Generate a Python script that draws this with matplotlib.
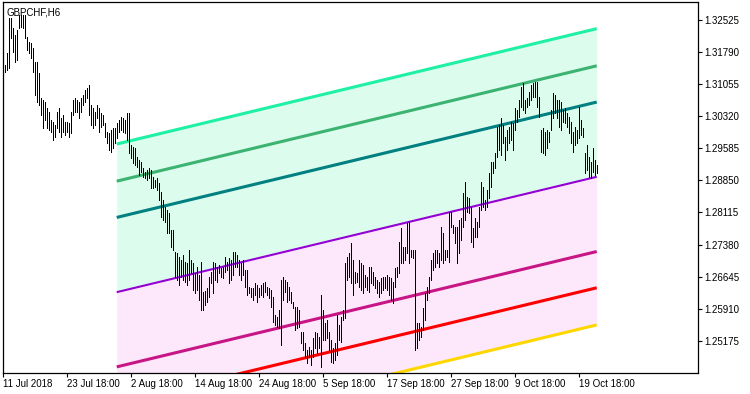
import matplotlib
matplotlib.use('Agg')
import matplotlib.pyplot as plt
import numpy as np

# GBPCHF H6 bar data, high / low per bar
highs = [
    1.3149, 1.3177, 1.3257, 1.3257, 1.3234, 1.3218, 1.3229, 1.3264, 1.3264, 1.3264,
    1.3264, 1.3213, 1.3202, 1.3200, 1.3188, 1.3156, 1.3156, 1.3131, 1.3074, 1.3069,
    1.3064, 1.3051, 1.3042, 1.3023, 1.3019, 1.3012, 1.3042, 1.3051, 1.3028, 1.3035,
    1.3019, 1.3019, 1.3016, 1.3042, 1.3069, 1.3074, 1.3069, 1.3064, 1.3074, 1.3080,
    1.3092, 1.3097, 1.3103, 1.3057, 1.3051, 1.3042, 1.3057, 1.3051,
    1.3039, 1.3035, 1.3016, 1.2996, 1.2993, 1.3000, 1.3005, 1.3005, 1.3016, 1.3023,
    1.3030, 1.3028, 1.3023, 1.3039, 1.3039, 1.2966, 1.2961, 1.2959, 1.2939, 1.2932,
    1.2927, 1.2913, 1.2904, 1.2909, 1.2913, 1.2909, 1.2893, 1.2886, 1.2890, 1.2879,
    1.2858, 1.2840, 1.2824, 1.2817, 1.2810, 1.2771, 1.2771, 1.2721, 1.2719, 1.2710,
    1.2703, 1.2714, 1.2698, 1.2696, 1.2726, 1.2703, 1.2696, 1.2673, 1.2687, 1.2668,
    1.2698, 1.2629, 1.2632, 1.2639, 1.2664, 1.2675, 1.2698, 1.2696, 1.2687, 1.2691,
    1.2684, 1.2687, 1.2710, 1.2698, 1.2707, 1.2703, 1.2721, 1.2721, 1.2714, 1.2703,
    1.2696, 1.2703, 1.2680, 1.2680, 1.2641, 1.2639, 1.2639, 1.2650, 1.2645, 1.2639,
    1.2645, 1.2650, 1.2652, 1.2641, 1.2639, 1.2634, 1.2618, 1.2577, 1.2572, 1.2588,
    1.2657, 1.2664, 1.2657, 1.2652, 1.2641, 1.2629, 1.2606, 1.2595, 1.2595, 1.2588,
    1.2538, 1.2538, 1.2513, 1.2497, 1.2503, 1.2497, 1.2524, 1.2538, 1.2535, 1.2526,
    1.2622, 1.2588, 1.2558, 1.2565, 1.2538, 1.2519, 1.2501, 1.2513, 1.2577, 1.2554,
    1.2572, 1.2588, 1.2696, 1.2710, 1.2719, 1.2742, 1.2703, 1.2675, 1.2673, 1.2703,
    1.2696, 1.2691, 1.2668, 1.2664, 1.2687, 1.2687, 1.2675, 1.2664, 1.2657, 1.2652,
    1.2661, 1.2664, 1.2664, 1.2668, 1.2664, 1.2661, 1.2652, 1.2684, 1.2687, 1.2744,
    1.2776, 1.2732, 1.2732, 1.2787, 1.2790, 1.2726, 1.2726, 1.2726, 1.2558, 1.2558,
    1.2549, 1.2593, 1.2627, 1.2641, 1.2664, 1.2703, 1.2719, 1.2726, 1.2726, 1.2719,
    1.2778, 1.2764, 1.2726, 1.2726, 1.2812, 1.2812, 1.2783, 1.2778, 1.2778, 1.2794,
    1.2799, 1.2856, 1.2881, 1.2847, 1.2845, 1.2824, 1.2776, 1.2799, 1.2790, 1.2824,
    1.2881, 1.2870, 1.2840, 1.2863, 1.2902, 1.2927, 1.2927, 1.2948, 1.3007, 1.3012,
    1.3028, 1.3012, 1.2984, 1.3000, 1.3007, 1.3019, 1.3016, 1.3051, 1.3046, 1.3069,
    1.3099, 1.3108, 1.3069, 1.3074, 1.3087, 1.3103, 1.3108, 1.3110, 1.3110, 1.3076,
    1.3000, 1.3005, 1.2996, 1.3000, 1.2996, 1.3046, 1.3085, 1.3080, 1.3069, 1.3069,
    1.3064, 1.3046, 1.3051, 1.3039, 1.3030, 1.3019, 1.2996, 1.3007, 1.3000, 1.3053,
    1.3023, 1.3005, 1.2948, 1.2966, 1.2939, 1.2927, 1.2959, 1.2932, 1.2920,
]
lows = [
    1.3133, 1.3138, 1.3142, 1.3211, 1.3179, 1.3156, 1.3161, 1.3234, 1.3236, 1.3234,
    1.3211, 1.3184, 1.3177, 1.3165, 1.3133, 1.3080, 1.3064, 1.3057, 1.3035, 1.3005,
    1.3023, 1.3005, 1.3000, 1.2996, 1.2977, 1.2984, 1.3005, 1.2996, 1.2984, 1.2996,
    1.2989, 1.2996, 1.2984, 1.2993, 1.3035, 1.3042, 1.3042, 1.3028, 1.3042, 1.3057,
    1.3064, 1.3074, 1.3035, 1.3012, 1.3005, 1.3012, 1.3028, 1.2996,
    1.3007, 1.3012, 1.2984, 1.2970, 1.2954, 1.2950, 1.2959, 1.2970, 1.2982, 1.2996,
    1.3000, 1.2996, 1.2993, 1.2977, 1.2948, 1.2936, 1.2925, 1.2920, 1.2916, 1.2897,
    1.2904, 1.2893, 1.2890, 1.2886, 1.2890, 1.2868, 1.2868, 1.2870, 1.2863, 1.2840,
    1.2801, 1.2794, 1.2790, 1.2764, 1.2764, 1.2732, 1.2726, 1.2664, 1.2657, 1.2645,
    1.2664, 1.2657, 1.2652, 1.2645, 1.2657, 1.2673, 1.2634, 1.2627, 1.2634, 1.2611,
    1.2588, 1.2588, 1.2600, 1.2606, 1.2618, 1.2650, 1.2627, 1.2657, 1.2652, 1.2673,
    1.2664, 1.2661, 1.2675, 1.2680, 1.2650, 1.2657, 1.2668, 1.2687, 1.2687, 1.2668,
    1.2657, 1.2668, 1.2641, 1.2622, 1.2627, 1.2618, 1.2611, 1.2622, 1.2606, 1.2618,
    1.2622, 1.2618, 1.2629, 1.2622, 1.2616, 1.2595, 1.2561, 1.2554, 1.2549, 1.2547,
    1.2508, 1.2611, 1.2629, 1.2606, 1.2611, 1.2604, 1.2593, 1.2542, 1.2547, 1.2549,
    1.2513, 1.2497, 1.2481, 1.2467, 1.2481, 1.2462, 1.2481, 1.2501, 1.2490, 1.2501,
    1.2458, 1.2519, 1.2519, 1.2524, 1.2497, 1.2469, 1.2467, 1.2474, 1.2485, 1.2519,
    1.2515, 1.2565, 1.2570, 1.2657, 1.2664, 1.2650, 1.2622, 1.2650, 1.2652, 1.2641,
    1.2634, 1.2627, 1.2641, 1.2634, 1.2629, 1.2650, 1.2645, 1.2639, 1.2627, 1.2618,
    1.2627, 1.2634, 1.2639, 1.2634, 1.2622, 1.2611, 1.2604, 1.2641, 1.2664, 1.2673,
    1.2696, 1.2696, 1.2703, 1.2719, 1.2696, 1.2710, 1.2707, 1.2497, 1.2501, 1.2519,
    1.2526, 1.2542, 1.2565, 1.2611, 1.2627, 1.2657, 1.2680, 1.2687, 1.2696, 1.2687,
    1.2703, 1.2696, 1.2703, 1.2710, 1.2698, 1.2778, 1.2764, 1.2742, 1.2696, 1.2719,
    1.2748, 1.2778, 1.2794, 1.2812, 1.2810, 1.2744, 1.2732, 1.2755, 1.2755, 1.2778,
    1.2817, 1.2824, 1.2817, 1.2824, 1.2845, 1.2870, 1.2902, 1.2913, 1.2939, 1.2954,
    1.2943, 1.2970, 1.2932, 1.2954, 1.2970, 1.2977, 1.2954, 1.3000, 1.3019, 1.3030,
    1.3053, 1.3046, 1.3039, 1.3053, 1.3057, 1.3069, 1.3076, 1.3076, 1.3053, 1.3030,
    1.2950, 1.2948, 1.2943, 1.2959, 1.2973, 1.3000, 1.3028, 1.3039, 1.3028, 1.3007,
    1.3000, 1.3019, 1.3016, 1.3007, 1.2993, 1.2970, 1.2950, 1.2966, 1.2970, 1.2982,
    1.2989, 1.2984, 1.2902, 1.2909, 1.2893, 1.2890, 1.2904, 1.2897, 1.2902,
]

# regression channel: first/last bar and centre line price at both ends
chan_bars = [57, 297]
chan_center = [1.2629, 1.2893]
chan_offsets = [0.0339, 0.0254, 0.0171, 0.0, -0.0171, -0.0254, -0.0339]
chan_colors = ['#1EF0A4', '#3CB371', '#008080', '#9400D3', '#C71585', '#FF0000', '#FFD700']
chan_widths = [2.2, 2.2, 2.2, 1.5, 2.2, 2.2, 2.2]

ytick_vals = [1.25175, 1.25910, 1.26645, 1.27380, 1.28115, 1.28850,
              1.29585, 1.30320, 1.31055, 1.31790, 1.32525]
xtick_pos = [0, 32, 64, 96, 128, 160, 192, 224, 256, 288]
xtick_labels = ['11 Jul 2018', '23 Jul 18:00', '2 Aug 18:00', '14 Aug 18:00',
                '24 Aug 18:00', '5 Sep 18:00', '17 Sep 18:00', '27 Sep 18:00',
                '9 Oct 18:00', '19 Oct 18:00']

plt.rcParams['font.family'] = ['Liberation Sans', 'DejaVu Sans']

fig = plt.figure(figsize=(7.5, 3.94), dpi=100)
ax = fig.add_axes([0.0036, 0.0533, 0.9267, 0.9416])

# channel fills (upper half mint, lower half pink)
cx = np.array(chan_bars, dtype=float)
center = np.array(chan_center)
ax.fill_between(cx, center + chan_offsets[0], center, color='#DCFCEE', lw=0, zorder=1)
ax.fill_between(cx, center, center + chan_offsets[-1], color='#FCE8FA', lw=0, zorder=1)
for off, col, w in zip(chan_offsets, chan_colors, chan_widths):
    ax.plot(cx, center + off, color=col, lw=w, solid_capstyle='butt', zorder=2)

# price bars
pos = np.arange(1, len(highs) + 1)
ax.vlines(pos, lows, highs, colors='black', linewidth=0.72, antialiased=False, zorder=3)

ax.set_xlim(0, 347.5)
ax.set_ylim(1.2444, 1.3293)

ax.yaxis.tick_right()
ax.set_yticks(ytick_vals)
ax.set_yticklabels(['%.5f' % v for v in ytick_vals])
ax.set_xticks(xtick_pos)
ax.set_xticklabels(xtick_labels, ha='left')
ax.tick_params(axis='both', direction='out', length=3, width=0.8, labelsize=7,
               colors='black', pad=1.5)
for s in ax.spines.values():
    s.set_linewidth(0.9)
    s.set_color('black')

ax.text(0.006, 0.985, 'GBPCHF,H6', transform=ax.transAxes, fontsize=7,
        va='top', ha='left')

fig.savefig('out.png', dpi=100)
